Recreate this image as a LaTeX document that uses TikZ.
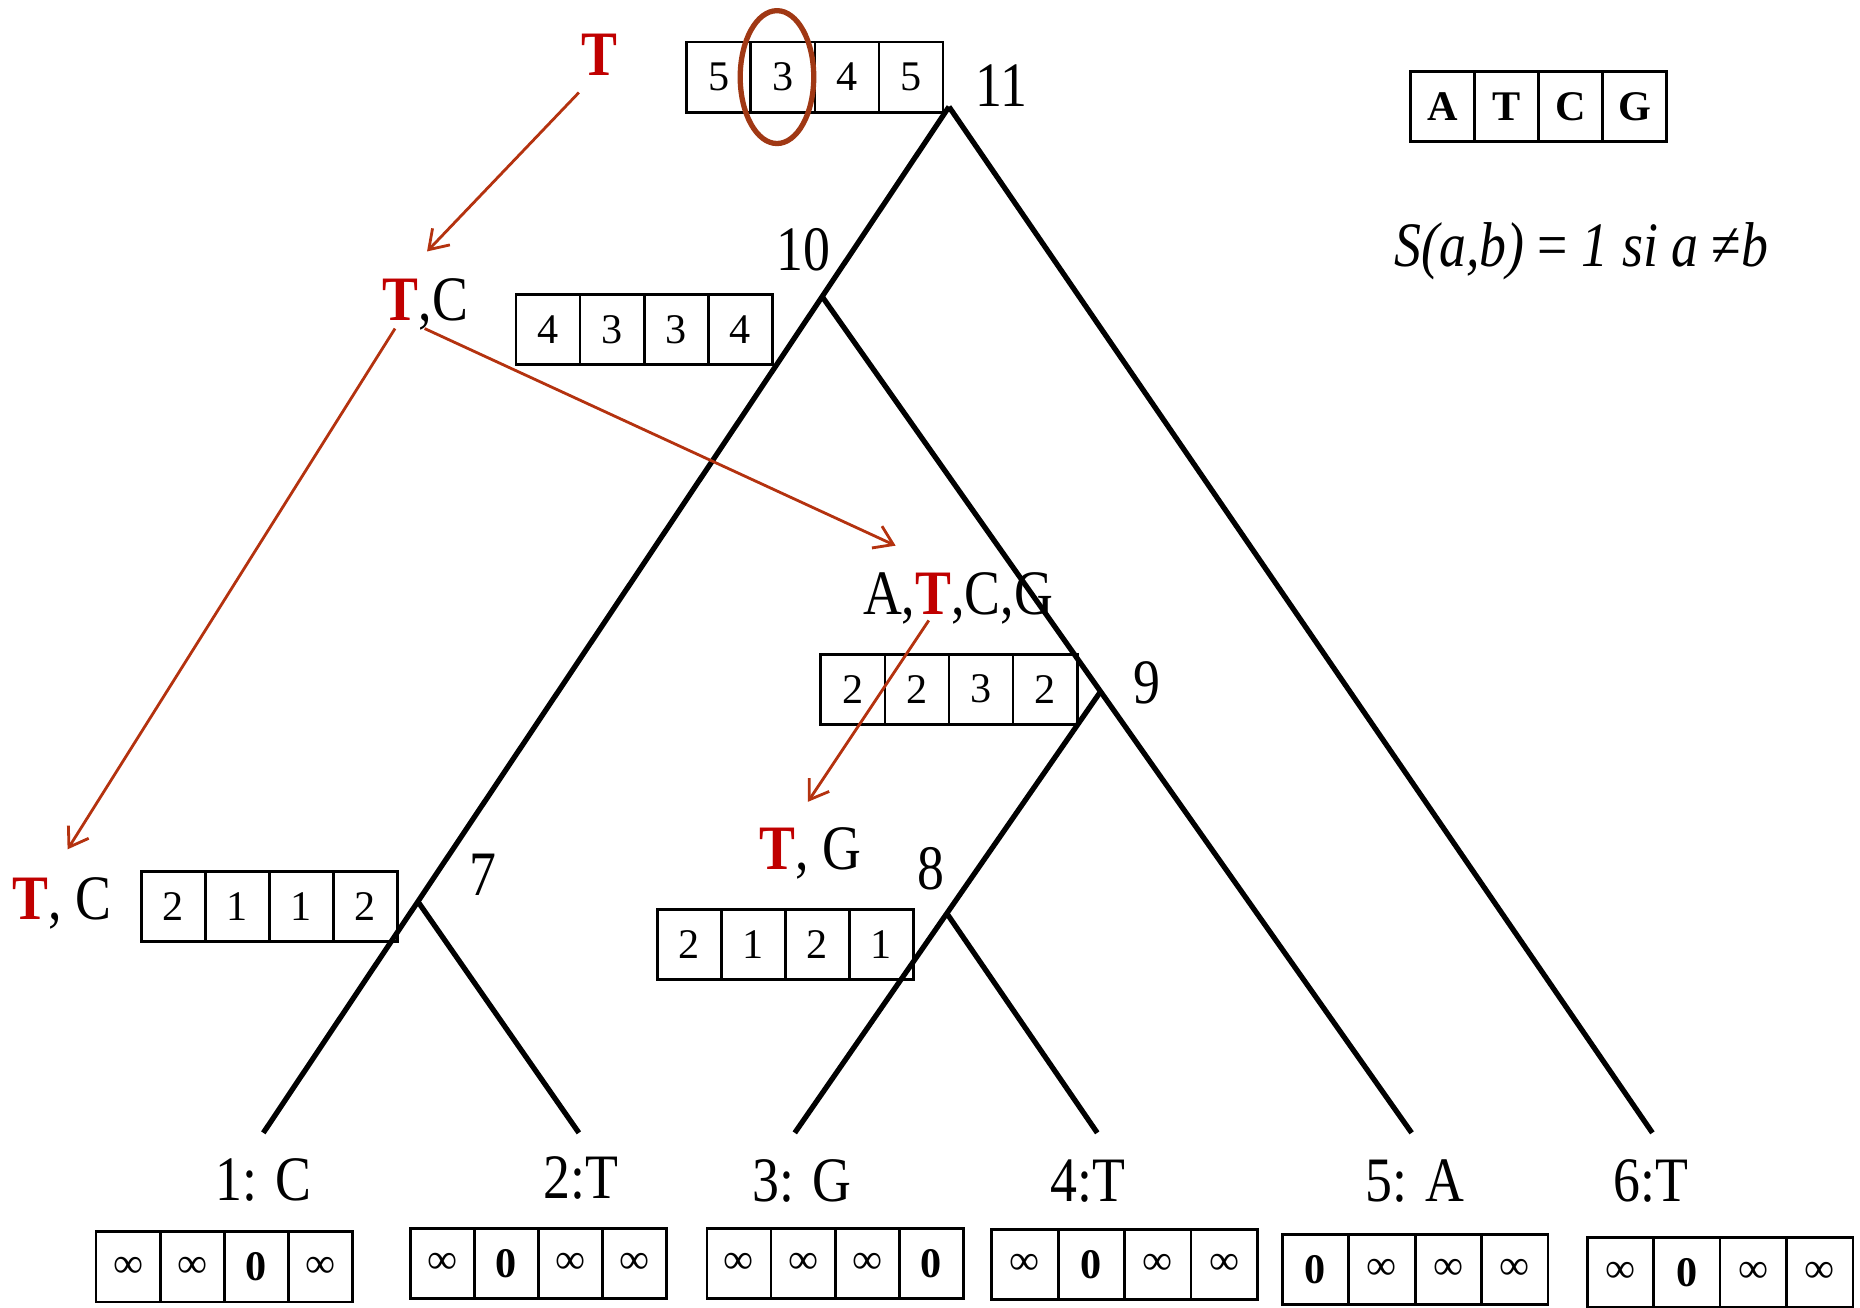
\documentclass[tikz,border=0pt]{standalone}
\usepackage{fontspec}
\setmainfont{Liberation Serif}
\newfontfamily\narrowfont[FakeStretch=0.85]{Liberation Serif}
\usepackage{amsmath}
\usetikzlibrary{calc,arrows.meta}

\definecolor{stateRed}{RGB}{192,0,0}
\definecolor{arrowBrown}{RGB}{180,50,15}
\definecolor{ringBrown}{RGB}{160,56,20}

\newcommand{\redT}{\textcolor{stateRed}{\textbf{T}}}

\tikzset{
	cell/.style={rectangle, draw, line width=0.8pt, minimum height=0.7cm, inner sep=0pt, font=\fontsize{12}{12}\selectfont},
	branch/.style={line width=1.5pt},
	backtrack/.style={arrowBrown, line width=0.8pt, -{Straight Barb[length=1.8mm, width=2.4mm]}},
	lbl/.style={inner sep=0pt, font=\narrowfont\fontsize{18}{20}\selectfont},
}

\begin{document}
\begin{tikzpicture}[x=0.011862cm, y=-0.011862cm]
		
		\useasboundingbox (0,0) rectangle (1568,1102);
		
		% Tree
		
		\coordinate (n11) at (800,90);
		\coordinate (e1) at (222,955);
		\coordinate (e2) at (488,955);
		\coordinate (e3) at (670,955);
		\coordinate (e4) at (925,955);
		\coordinate (e5) at (1190,955);
		\coordinate (e6) at (1393,955);
		
		\path (n11) -- (e1) coordinate[pos=0.185] (n10) coordinate[pos=0.7746] (n7);
		\path (n10) -- (e5) coordinate[pos=0.4723] (n9);
		\path (n9) -- (e3) coordinate[pos=0.5027] (n8);
		
		% Score boxes
		
		\foreach \bname/\bx/\by/\w/\va/\vb/\vc/\vd in {
			b11/579/65/54/5/3/4/5,
			b10/435/278/54/4/3/3/4,
			b9/692/581/54/2/2/3/2,
			b7/119/764/54/2/1/1/2,
			b8/554/796/54/2/1/2/1,
			key/1189/90/54/\textbf{A}/\textbf{T}/\textbf{C}/\textbf{G},
			l1/81/1068/54/∞/∞/\textbf{0}/∞,
			l2/346/1065/54/∞/\textbf{0}/∞/∞,
			l3/596/1065/54/∞/∞/∞/\textbf{0},
			l4/836/1066/56/∞/\textbf{0}/∞/∞,
			l5/1081/1070/56/\textbf{0}/∞/∞/∞,
			l6/1338/1073/56/∞/\textbf{0}/∞/∞}
		{
			\foreach \v [count=\i] in {\va,\vb,\vc,\vd}
			\node[cell, minimum width=\w*0.011862cm] (\bname-\i) at ({\bx+\w*(\i-0.5)},\by) {\v};
		}
		
		% Ring round the minimum
		
		\draw[ringBrown, line width=1.5pt] ($(b11-2)+(-5,0)$) ellipse [x radius=31, y radius=56];
		
		\draw[branch] (n11) -- (e1);
		\draw[branch] (n11) -- (e6);
		\draw[branch] (n10) -- (e5);
		\draw[branch] (n9) -- (e3);
		\draw[branch] (n8) -- (e4);
		\draw[branch] (n7) -- (e2);
		
		% Node numbers
		
		\node[lbl, anchor=base west] (num11) at (822,90) {11};
		\node[lbl, anchor=base west] (num10) at (654,228) {10};
		\node[lbl, anchor=base west] (num9) at (955,593) {9};
		\node[lbl, anchor=base west] (num8) at (773,750) {8};
		\node[lbl, anchor=base west] (num7) at (395,755) {7};
		
		% Leaves
		
		\node[lbl, anchor=base] (leaf1) at (222,1012) {1: C};
		\node[lbl, anchor=base] (leaf2) at (490,1010) {2:T};
		\node[lbl, anchor=base] (leaf3) at (676,1013) {3: G};
		\node[lbl, anchor=base] (leaf4) at (917,1013) {4:T};
		\node[lbl, anchor=base] (leaf5) at (1193,1013) {5: A};
		\node[lbl, anchor=base] (leaf6) at (1392,1013) {6:T};
		
		% Chosen states
		
		\node[lbl, anchor=base] (sT) at (505,64) {\redT};
		\node[lbl, anchor=base west] (sTC) at (322,270) {\redT,C};
		\node[lbl, anchor=base west] (sATCG) at (727,518) {A,\redT,C,G};
		\node[lbl, anchor=base west] (sTG) at (640,733) {\redT, G};
		\node[lbl, anchor=base west] (sTC7) at (10,775) {\redT, C};
		
		\draw[backtrack] ($(sT.base)+(-17,14)$) -- ($(sTC.base west)+(38,-58)$);
		\draw[backtrack] ($(sTC.base west)+(11,7)$) -- ($(sTC7.base west)+(47,-59)$);
		\draw[backtrack] ($(sTC.base west)+(36,7)$) -- ($(sATCG.base west)+(28,-58)$);
		\draw[backtrack] ($(sATCG.base west)+(56,5)$) -- ($(sTG.base west)+(41,-57)$);
		
		% Cost
		
		\node[lbl, anchor=base west] (cost) at (1175,225) {\textit{S(a,b)} = \textit{1 si a} ≠\textit{b}};
		
\end{tikzpicture}
\end{document}
